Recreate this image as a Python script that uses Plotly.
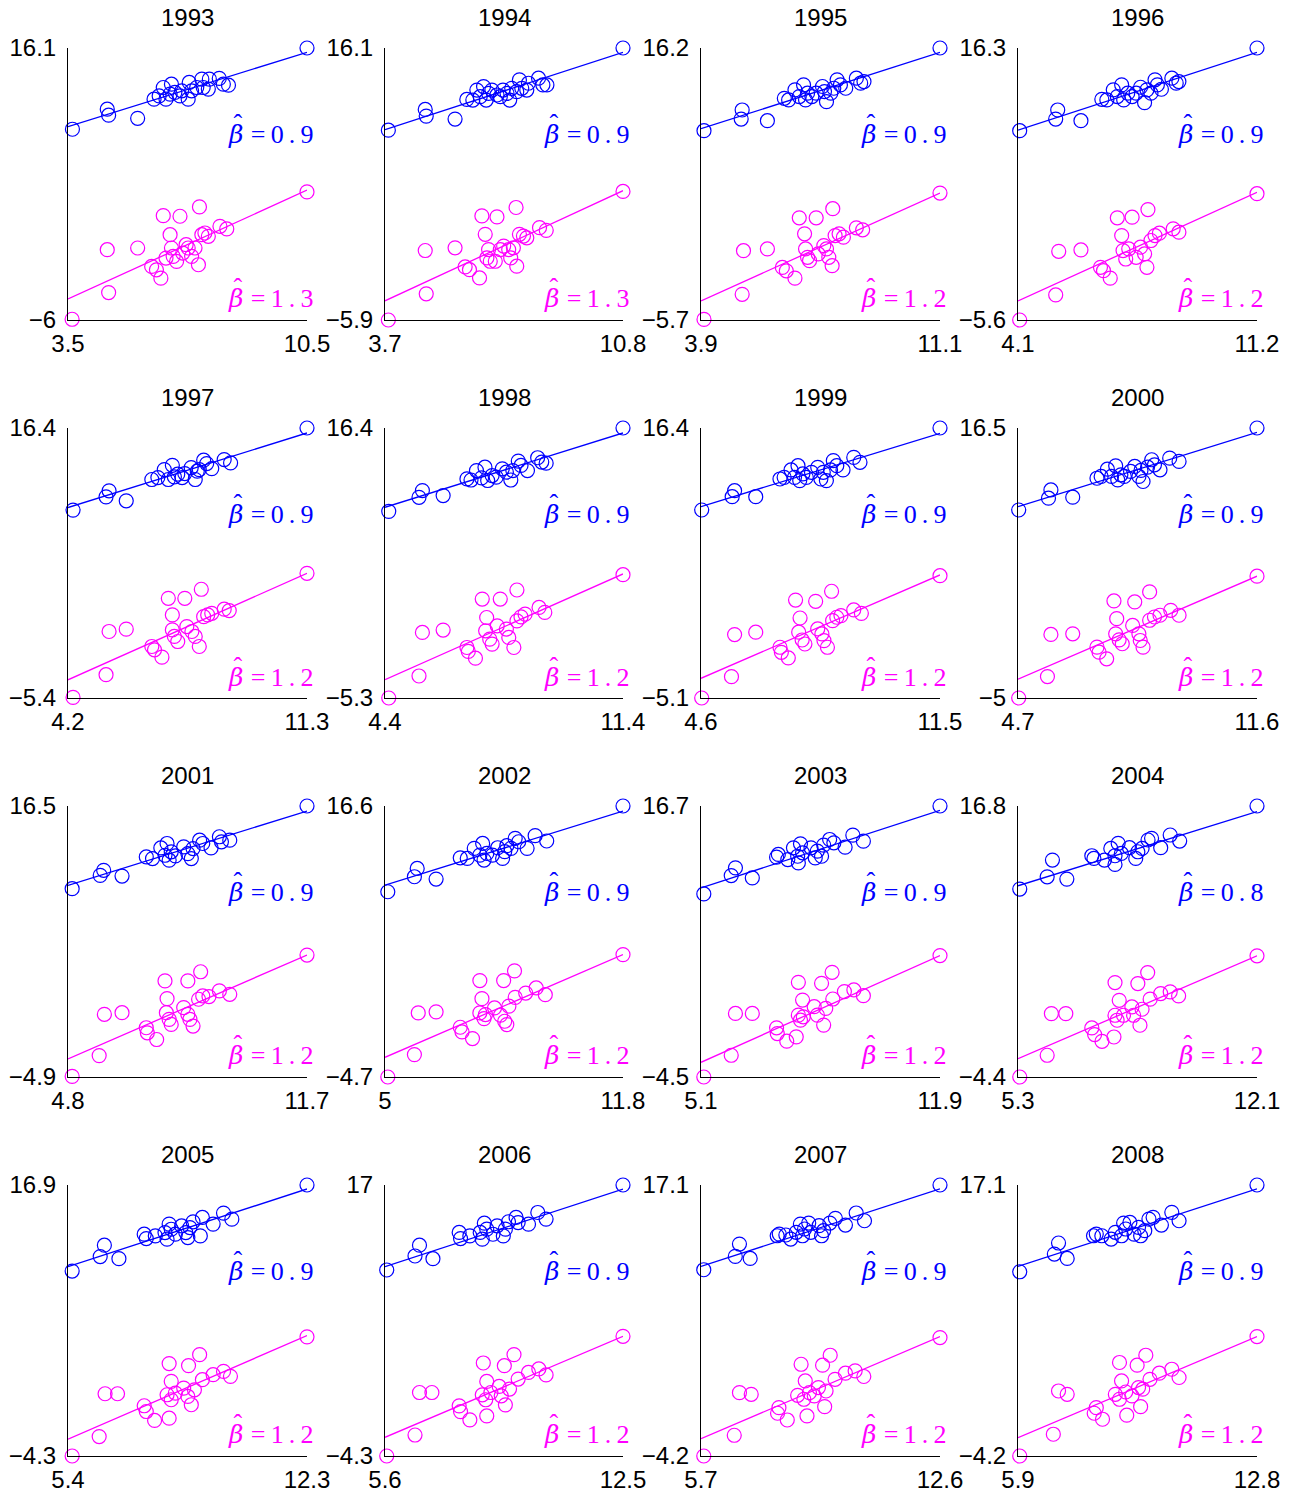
import plotly.graph_objects as go

years = list(range(1993, 2009))

x_lo = [3.5, 3.7, 3.9, 4.1, 4.2, 4.4, 4.6, 4.7, 4.8, 5.0, 5.1, 5.3, 5.4, 5.6, 5.7, 5.9]
x_hi = [10.5, 10.8, 11.1, 11.2, 11.3, 11.4, 11.5, 11.6, 11.7, 11.8, 11.9, 12.1, 12.3, 12.5, 12.6, 12.8]
y_lo = [-6, -5.9, -5.7, -5.6, -5.4, -5.3, -5.1, -5, -4.9, -4.7, -4.5, -4.4, -4.3, -4.3, -4.2, -4.2]
y_hi = [16.1, 16.1, 16.2, 16.3, 16.4, 16.4, 16.4, 16.5, 16.5, 16.6, 16.7, 16.8, 16.9, 17, 17.1, 17.1]

beta_blue = ["0.9"] * 11 + ["0.8"] + ["0.9"] * 4
beta_mag = ["1.3", "1.3"] + ["1.2"] * 14

# fitted line values at the left / right x limits
blue_line_start = [9.71, 9.50, 9.70, 9.69, 9.98, 10.03, 10.14, 10.24, 10.23, 10.38, 10.29, 10.56, 10.51, 10.58, 10.70, 10.70]
blue_line_end = [15.75, 15.75, 15.85, 15.95, 16.0, 16.0, 15.98, 16.15, 16.1, 16.2, 16.36, 16.36, 16.59, 16.68, 16.79, 16.79]
mag_line_start = [-4.29, -4.35, -4.16, -4.06, -3.93, -3.82, -3.53, -3.5, -3.47, -3.15, -3.35, -2.97, -2.99, -2.83, -2.84, -2.76]
mag_line_end = [4.55, 4.56, 4.52, 4.68, 4.67, 4.67, 4.70, 4.70, 4.73, 4.92, 5.0, 5.08, 5.12, 5.11, 5.19, 5.19]

blue_x = {
    1993: [3.63, 4.65, 4.69, 5.54, 6.02, 6.17, 6.29, 6.37, 6.49, 6.53, 6.63, 6.78, 6.83, 7.02, 7.05, 7.12, 7.27, 7.42, 7.46, 7.61, 7.64, 7.93, 8.05, 8.20, 10.5],
    1994: [3.80, 4.90, 4.93, 5.79, 6.14, 6.32, 6.44, 6.54, 6.64, 6.72, 6.79, 6.89, 7.04, 7.14, 7.22, 7.34, 7.42, 7.48, 7.63, 7.71, 7.78, 7.93, 7.98, 8.28, 8.41, 8.53, 10.8],
    1995: [3.99, 5.14, 5.11, 5.90, 6.41, 6.54, 6.73, 6.86, 6.99, 7.05, 7.11, 7.24, 7.37, 7.56, 7.62, 7.68, 7.81, 7.90, 8.00, 8.10, 8.26, 8.58, 8.71, 8.81, 11.1],
    1996: [4.15, 5.28, 5.22, 5.97, 6.59, 6.74, 6.93, 7.05, 7.18, 7.24, 7.36, 7.49, 7.61, 7.74, 7.86, 7.93, 8.05, 8.17, 8.24, 8.36, 8.67, 8.80, 8.88, 11.2],
    1997: [4.35, 5.42, 5.33, 5.93, 6.69, 6.87, 7.06, 7.18, 7.30, 7.36, 7.46, 7.59, 7.67, 7.86, 7.98, 8.04, 8.10, 8.23, 8.32, 8.47, 8.84, 9.03, 11.3],
    1998: [4.51, 5.50, 5.40, 6.11, 6.81, 6.93, 7.09, 7.24, 7.34, 7.42, 7.55, 7.67, 7.85, 7.97, 8.10, 8.16, 8.32, 8.40, 8.59, 8.89, 9.01, 9.14, 11.4],
    1999: [4.62, 5.57, 5.50, 6.18, 6.88, 7.00, 7.20, 7.30, 7.40, 7.45, 7.54, 7.64, 7.79, 7.97, 8.06, 8.13, 8.22, 8.34, 8.42, 8.52, 8.70, 9.01, 9.19, 11.5],
    2000: [4.72, 5.65, 5.58, 6.28, 6.98, 7.10, 7.28, 7.40, 7.52, 7.58, 7.67, 7.77, 7.95, 8.07, 8.19, 8.25, 8.31, 8.44, 8.56, 8.64, 8.80, 9.08, 9.35, 11.6],
    2001: [4.92, 5.83, 5.73, 6.36, 7.06, 7.24, 7.48, 7.60, 7.66, 7.72, 7.78, 7.90, 8.14, 8.26, 8.36, 8.41, 8.60, 8.69, 8.93, 9.17, 9.23, 9.47, 11.7],
    2002: [5.08, 5.92, 5.84, 6.46, 7.15, 7.35, 7.55, 7.71, 7.79, 7.83, 7.91, 8.07, 8.22, 8.36, 8.42, 8.48, 8.60, 8.72, 8.82, 9.06, 9.29, 9.62, 11.8],
    2003: [5.18, 6.08, 5.96, 6.56, 7.25, 7.30, 7.57, 7.73, 7.85, 7.93, 7.87, 7.99, 8.23, 8.35, 8.41, 8.53, 8.59, 8.76, 8.88, 9.20, 9.42, 9.72, 11.9],
    2004: [5.35, 6.28, 6.13, 6.69, 7.40, 7.46, 7.76, 7.94, 8.06, 8.15, 8.06, 8.24, 8.47, 8.65, 8.71, 8.83, 9.00, 9.10, 9.36, 9.63, 9.90, 12.1],
    2005: [5.52, 6.33, 6.45, 6.87, 7.60, 7.66, 7.92, 8.20, 8.32, 8.26, 8.38, 8.50, 8.68, 8.80, 8.86, 8.92, 9.01, 9.22, 9.28, 9.59, 9.89, 10.13, 12.3],
    2006: [5.65, 6.47, 6.60, 6.99, 7.75, 7.79, 8.06, 8.36, 8.48, 8.42, 8.55, 8.73, 8.85, 9.03, 9.09, 9.18, 9.40, 9.46, 9.76, 10.03, 10.27, 12.5],
    2007: [5.78, 6.69, 6.81, 7.12, 7.90, 7.96, 8.15, 8.29, 8.45, 8.57, 8.63, 8.69, 8.81, 8.87, 9.11, 9.18, 9.24, 9.42, 9.58, 9.87, 10.18, 10.42, 12.6],
    2008: [5.95, 6.95, 7.07, 7.32, 8.08, 8.16, 8.32, 8.59, 8.71, 8.95, 8.89, 9.01, 9.13, 9.25, 9.38, 9.44, 9.56, 9.68, 9.80, 10.04, 10.34, 10.55, 12.8],
}
blue_y = {
    1993: [9.50, 11.13, 10.64, 10.39, 11.94, 12.21, 12.89, 11.94, 12.35, 13.16, 12.49, 12.21, 12.62, 11.94, 13.30, 12.62, 12.89, 13.57, 12.89, 12.76, 13.57, 13.63, 13.16, 13.08, 16.1],
    1994: [9.45, 11.13, 10.59, 10.35, 11.94, 11.89, 12.70, 12.16, 12.98, 11.89, 12.43, 12.70, 12.30, 12.16, 12.70, 12.43, 11.89, 12.84, 12.57, 13.52, 12.84, 12.70, 13.25, 13.66, 13.11, 13.11, 16.1],
    1995: [9.54, 11.21, 10.48, 10.35, 12.15, 12.02, 12.83, 12.29, 13.23, 12.02, 12.56, 12.29, 12.56, 13.10, 12.69, 11.88, 12.56, 12.96, 13.64, 13.23, 12.96, 13.77, 13.37, 13.50, 16.2],
    1996: [9.64, 11.31, 10.58, 10.45, 12.17, 12.12, 12.93, 12.39, 13.33, 12.12, 12.66, 12.39, 12.66, 13.14, 11.90, 12.93, 12.66, 13.74, 13.33, 12.98, 13.87, 13.47, 13.60, 16.3],
    1997: [9.77, 11.33, 10.84, 10.52, 12.24, 12.40, 13.04, 12.24, 13.39, 12.45, 12.67, 12.40, 12.72, 13.20, 12.24, 12.91, 13.04, 13.80, 13.53, 13.12, 13.85, 13.58, 16.4],
    1998: [9.70, 11.37, 10.83, 10.97, 12.31, 12.22, 12.98, 12.39, 13.25, 12.18, 12.58, 12.45, 13.12, 12.85, 12.22, 12.98, 13.74, 13.39, 12.98, 14.01, 13.66, 13.57, 16.4],
    1999: [9.87, 11.41, 10.93, 10.93, 12.34, 12.47, 13.06, 12.47, 13.40, 12.21, 12.74, 12.47, 12.87, 13.27, 12.34, 12.87, 12.21, 13.06, 13.80, 13.40, 13.06, 14.06, 13.67, 16.4],
    2000: [9.97, 11.57, 10.91, 10.99, 12.50, 12.64, 13.22, 12.64, 13.49, 12.37, 12.77, 12.64, 13.04, 13.44, 12.64, 13.12, 12.24, 13.38, 13.97, 13.57, 13.17, 14.10, 13.84, 16.5],
    2001: [9.97, 11.42, 11.02, 10.97, 12.48, 12.35, 13.19, 12.61, 13.54, 12.22, 12.88, 12.56, 13.27, 12.74, 12.35, 13.14, 13.80, 13.54, 13.19, 14.07, 13.67, 13.80, 16.5],
    2002: [9.86, 11.69, 11.04, 10.86, 12.53, 12.48, 13.27, 12.74, 13.66, 12.35, 12.87, 12.74, 13.32, 12.48, 13.01, 13.48, 13.27, 14.06, 13.79, 13.27, 14.27, 13.85, 16.6],
    2003: [9.82, 11.86, 11.26, 11.07, 12.70, 12.91, 12.51, 13.43, 12.77, 13.74, 12.25, 13.04, 13.43, 12.64, 13.17, 12.77, 13.64, 14.08, 13.82, 13.48, 14.42, 13.95, 16.7],
    2004: [10.30, 12.57, 11.26, 11.08, 12.91, 12.70, 12.57, 13.48, 12.91, 13.88, 12.23, 13.09, 13.54, 12.70, 13.22, 13.48, 14.14, 14.27, 13.54, 14.53, 14.06, 16.8],
    2005: [10.17, 11.30, 12.19, 11.14, 13.05, 12.71, 12.92, 13.18, 13.84, 12.66, 13.44, 13.05, 13.70, 13.18, 12.79, 13.57, 14.02, 12.92, 14.36, 13.84, 14.70, 14.23, 16.9],
    2006: [10.32, 11.42, 12.27, 11.21, 13.27, 12.79, 13.00, 13.27, 14.00, 12.74, 13.53, 13.13, 13.79, 13.00, 13.53, 14.11, 14.45, 14.05, 13.92, 14.84, 14.32, 17.0],
    2007: [10.44, 11.49, 12.46, 11.33, 13.11, 13.24, 13.17, 12.85, 13.38, 14.03, 13.11, 13.64, 14.11, 13.38, 13.90, 13.11, 13.51, 14.11, 14.48, 13.95, 14.90, 14.29, 17.1],
    2008: [10.28, 11.67, 12.54, 11.33, 13.11, 13.24, 13.11, 12.85, 13.38, 14.11, 13.11, 13.64, 14.16, 13.24, 13.77, 13.11, 13.51, 14.42, 14.56, 13.95, 14.95, 14.29, 17.1],
}
mag_x = {
    1993: [3.62, 4.65, 4.69, 5.54, 5.95, 6.09, 6.22, 6.29, 6.37, 6.49, 6.53, 6.58, 6.68, 6.78, 6.86, 6.96, 7.02, 7.12, 7.22, 7.32, 7.35, 7.42, 7.51, 7.61, 7.95, 8.15, 10.5],
    1994: [3.80, 4.90, 4.93, 5.79, 6.09, 6.22, 6.52, 6.59, 6.69, 6.74, 6.79, 6.84, 6.99, 7.04, 7.14, 7.24, 7.39, 7.45, 7.53, 7.61, 7.63, 7.71, 7.83, 7.93, 8.31, 8.51, 10.8],
    1995: [3.99, 5.18, 5.14, 5.90, 6.35, 6.47, 6.73, 6.86, 7.02, 7.05, 7.11, 7.17, 7.37, 7.43, 7.60, 7.68, 7.75, 7.85, 7.87, 7.94, 8.06, 8.19, 8.58, 8.77, 11.1],
    1996: [4.15, 5.31, 5.22, 5.97, 6.55, 6.64, 6.84, 7.05, 7.18, 7.22, 7.30, 7.39, 7.49, 7.61, 7.74, 7.86, 7.93, 7.96, 8.05, 8.17, 8.30, 8.71, 8.88, 11.2],
    1997: [4.35, 5.42, 5.33, 5.93, 6.69, 6.77, 6.99, 7.18, 7.30, 7.30, 7.36, 7.46, 7.67, 7.73, 7.88, 7.98, 8.10, 8.16, 8.23, 8.35, 8.47, 8.84, 8.99, 11.3],
    1998: [4.51, 5.50, 5.40, 6.11, 6.81, 6.85, 7.06, 7.26, 7.39, 7.36, 7.48, 7.55, 7.79, 7.70, 7.97, 8.04, 8.19, 8.28, 8.28, 8.40, 8.52, 8.93, 9.10, 11.4],
    1999: [4.62, 5.57, 5.48, 6.18, 6.88, 6.92, 7.12, 7.33, 7.46, 7.42, 7.52, 7.60, 7.91, 7.97, 8.09, 8.15, 8.25, 8.37, 8.40, 8.52, 8.64, 9.01, 9.23, 11.5],
    2000: [4.72, 5.65, 5.55, 6.28, 6.98, 7.04, 7.26, 7.47, 7.55, 7.52, 7.62, 7.71, 8.07, 8.01, 8.19, 8.23, 8.31, 8.50, 8.50, 8.64, 8.80, 9.11, 9.35, 11.6],
    2001: [4.92, 5.85, 5.70, 6.36, 7.06, 7.09, 7.36, 7.60, 7.66, 7.64, 7.72, 7.78, 8.26, 8.14, 8.26, 8.32, 8.41, 8.63, 8.57, 8.69, 8.87, 9.17, 9.47, 11.7],
    2002: [5.08, 5.95, 5.84, 6.46, 7.15, 7.20, 7.50, 7.71, 7.77, 7.71, 7.83, 7.87, 8.13, 8.39, 8.30, 8.42, 8.48, 8.70, 8.54, 8.72, 9.02, 9.32, 9.58, 11.8],
    2003: [5.18, 6.08, 6.56, 5.96, 7.25, 7.27, 7.54, 7.81, 7.87, 7.99, 7.87, 7.93, 8.01, 8.32, 8.53, 8.41, 8.59, 8.83, 8.65, 8.85, 9.18, 9.45, 9.72, 11.9],
    2004: [5.35, 6.25, 6.66, 6.13, 7.40, 7.48, 7.69, 8.03, 8.06, 8.18, 8.06, 8.12, 8.30, 8.54, 8.71, 8.59, 8.77, 8.99, 8.83, 9.06, 9.36, 9.63, 9.87, 12.1],
    2005: [5.52, 6.47, 6.83, 6.30, 7.60, 7.66, 7.90, 8.32, 8.32, 8.38, 8.26, 8.38, 8.50, 8.74, 8.88, 8.86, 8.96, 9.20, 9.05, 9.28, 9.59, 9.89, 10.09, 12.3],
    2006: [5.65, 6.60, 6.96, 6.47, 7.75, 7.79, 8.06, 8.55, 8.45, 8.55, 8.42, 8.52, 8.67, 8.91, 9.06, 8.97, 9.09, 9.34, 9.21, 9.46, 9.76, 10.06, 10.27, 12.5],
    2007: [5.78, 6.81, 7.15, 6.66, 7.95, 7.91, 8.19, 8.76, 8.59, 8.71, 8.49, 8.67, 8.83, 9.09, 9.21, 8.97, 9.27, 9.43, 9.31, 9.57, 9.87, 10.15, 10.40, 12.6],
    2008: [5.95, 7.07, 7.32, 6.92, 8.16, 8.10, 8.34, 9.04, 8.83, 8.89, 8.71, 8.83, 9.01, 9.38, 9.34, 9.19, 9.44, 9.59, 9.50, 9.71, 9.98, 10.34, 10.55, 12.8],
}
mag_y = {
    1993: [-5.94, -0.29, -3.77, -0.15, -1.65, -1.92, -2.60, 2.48, -0.97, 0.93, -0.15, -0.83, -1.24, 2.43, -0.56, 0.12, -0.15, -0.83, -0.15, -1.51, 3.19, 0.93, 1.07, 0.80, 1.61, 1.40, 4.41],
    1994: [-5.9, -0.28, -3.78, -0.06, -1.61, -1.83, -2.50, 2.52, 1.03, -0.88, -0.20, -1.15, -1.15, 2.44, -0.20, 0.08, -0.20, -0.88, -0.06, 3.20, -1.55, 1.03, 0.89, 0.75, 1.57, 1.35, 4.50],
    1995: [-5.65, -0.12, -3.63, 0.02, -1.47, -1.74, -2.33, 2.53, 1.24, 0.02, -0.65, -0.92, 2.53, -0.38, 0.29, 0.02, -0.65, -1.33, 3.26, 1.10, 1.24, 0.97, 1.72, 1.56, 4.52],
    1996: [-5.6, -0.07, -3.58, 0.04, -1.36, -1.63, -2.23, 2.63, 1.20, -0.01, -0.69, 0.12, 2.68, -0.55, 0.26, -0.28, -1.36, 3.29, 0.80, 1.20, 1.39, 1.74, 1.47, 4.57],
    1997: [-5.35, -0.03, -3.52, 0.16, -1.24, -1.51, -2.10, 2.65, 1.31, 0.10, -0.43, -0.84, 2.65, 0.37, -0.03, -0.43, -1.24, 3.38, 1.17, 1.31, 1.44, 1.77, 1.66, 4.67],
    1998: [-5.3, -0.03, -3.53, 0.16, -1.24, -1.56, -2.10, 2.65, 1.17, 0.10, -0.57, -0.97, 2.65, 0.50, 0.24, -0.43, -1.24, 3.38, 0.90, 1.22, 1.44, 1.98, 1.58, 4.61],
    1999: [-5.1, -0.05, -3.40, 0.14, -1.06, -1.46, -1.91, 2.70, 1.27, 0.14, -0.48, -0.80, 2.60, 0.40, 0.00, -0.53, -1.06, 3.40, 1.06, 1.33, 1.46, 1.91, 1.64, 4.64],
    2000: [-5.0, 0.06, -3.29, 0.11, -0.95, -1.35, -1.88, 2.73, 1.32, 0.11, -0.37, -0.68, 2.65, 0.78, 0.11, -0.42, -0.95, 3.45, 1.19, 1.45, 1.59, 1.98, 1.59, 4.70],
    2001: [-4.85, 0.05, -3.21, 0.18, -1.01, -1.41, -1.94, 2.69, 1.29, 0.18, -0.35, -0.75, 2.69, 0.58, 0.05, -0.35, -0.88, 3.41, 1.24, 1.50, 1.45, 1.90, 1.63, 4.73],
    2002: [-4.7, 0.34, -2.94, 0.42, -0.79, -1.16, -1.68, 2.88, 1.46, 0.34, -0.11, 0.21, 0.73, 2.88, 0.16, -0.32, -0.58, 3.64, 0.87, 1.56, 1.90, 2.30, 1.77, 4.92],
    2003: [-4.5, 0.47, 0.47, -2.80, -0.65, -1.10, -1.70, -1.36, 2.91, 1.52, 0.34, -0.05, 0.21, 1.00, 2.83, 0.34, -0.44, 3.69, 0.87, 1.60, 2.18, 2.31, 1.86, 5.00],
    2004: [-4.4, 0.56, 0.56, -2.70, -0.56, -1.08, -1.61, -1.27, 2.99, 1.60, 0.43, 0.04, 0.43, 1.08, 2.91, 0.43, -0.35, 3.77, 0.90, 1.69, 2.13, 2.26, 1.94, 5.08],
    2005: [-4.3, 0.57, 0.57, -2.78, -0.37, -0.82, -1.52, -1.34, 2.93, 1.54, 0.49, 0.10, 0.62, 1.01, 2.77, 0.36, -0.29, 3.63, 0.88, 1.67, 2.06, 2.32, 1.93, 5.02],
    2006: [-4.3, 0.69, 0.69, -2.65, -0.36, -0.81, -1.46, -1.15, 3.01, 1.56, 0.51, 0.12, 0.69, 1.17, 2.80, 0.43, -0.28, 3.67, 0.96, 1.75, 2.27, 2.54, 2.07, 5.11],
    2007: [-4.2, 0.78, 0.65, -2.57, -0.40, -0.84, -1.37, -1.05, 3.01, 1.70, 0.57, 0.26, 0.78, 1.18, 2.94, 0.52, -0.32, 3.72, 0.91, 1.83, 2.31, 2.49, 2.05, 5.11],
    2008: [-4.2, 0.91, 0.65, -2.49, -0.40, -0.84, -1.31, -0.99, 3.15, 1.70, 0.65, 0.26, 0.83, 1.18, 2.94, 0.52, -0.32, 3.72, 1.05, 1.83, 2.31, 2.62, 1.97, 5.19],
}

for yr in years:
    assert len(blue_x[yr]) == len(blue_y[yr]), ("blue", yr, len(blue_x[yr]), len(blue_y[yr]))
    assert len(mag_x[yr]) == len(mag_y[yr]), ("mag", yr, len(mag_x[yr]), len(mag_y[yr]))

BLUE = "#0000FF"
MAGENTA = "#FF00FF"

W, H = 1293, 1495

# panel frames in window pixels
col_left = [68, 385, 701, 1018]
col_right = [307, 623, 940, 1257]
row_top = [48, 428, 806, 1185]
row_bottom = [320, 698, 1077, 1456]


def fmt(v):
    if abs(v - round(v)) < 1e-9:
        s = str(int(round(v)))
    else:
        s = f"{v:.1f}"
    return s.replace("-", "\u2212")


def beta_label(b):
    a, c = b.split(".")
    beta = ('<span style="font-family:DejaVu Serif;font-size:25px;letter-spacing:-10px">'
            '<i>\u03b2</i></span>')
    hat = '<span style="font-size:26px;baseline-shift:11px">\u02c6</span>'
    val = "\u2004=\u2009" + a + "\u2009.\u2009" + c
    return beta + hat + val


SANS = "Liberation Sans, Arial, sans-serif"
SERIF = "Liberation Serif, Times New Roman, serif"

fig = go.Figure()
layout = dict(
    width=W, height=H,
    margin=dict(l=0, r=0, t=0, b=0, autoexpand=False),
    paper_bgcolor="white", plot_bgcolor="white",
    showlegend=False,
    font=dict(family=SANS, size=24, color="black"),
)
annotations = []

for i, yr in enumerate(years):
    r, c = divmod(i, 4)
    n = i + 1
    xa = "x" if n == 1 else f"x{n}"
    ya = "y" if n == 1 else f"y{n}"
    xkey = "xaxis" if n == 1 else f"xaxis{n}"
    ykey = "yaxis" if n == 1 else f"yaxis{n}"

    fig.add_trace(go.Scatter(
        x=[x_lo[i], x_hi[i]], y=[blue_line_start[i], blue_line_end[i]],
        mode="lines", line=dict(color=BLUE, width=1.3), xaxis=xa, yaxis=ya,
        hoverinfo="skip"))
    fig.add_trace(go.Scatter(
        x=[x_lo[i], x_hi[i]], y=[mag_line_start[i], mag_line_end[i]],
        mode="lines", line=dict(color=MAGENTA, width=1.3), xaxis=xa, yaxis=ya,
        hoverinfo="skip"))
    fig.add_trace(go.Scatter(
        x=blue_x[yr], y=blue_y[yr], mode="markers", cliponaxis=False,
        marker=dict(symbol="circle-open", size=14, color=BLUE, line=dict(width=1.2)),
        xaxis=xa, yaxis=ya))
    fig.add_trace(go.Scatter(
        x=mag_x[yr], y=mag_y[yr], mode="markers", cliponaxis=False,
        marker=dict(symbol="circle-open", size=14, color=MAGENTA, line=dict(width=1.2)),
        xaxis=xa, yaxis=ya))

    common = dict(
        showline=True, linecolor="black", linewidth=1, mirror=False,
        showgrid=False, zeroline=False, ticks="inside", ticklen=3,
        tickcolor="black", tickwidth=1, autorange=False, automargin=False,
        tickfont=dict(family=SANS, size=24, color="black"),
    )
    layout[xkey] = dict(
        common,
        domain=[col_left[c] / W, col_right[c] / W],
        range=[x_lo[i], x_hi[i]],
        tickvals=[x_lo[i], x_hi[i]],
        ticktext=[fmt(x_lo[i]), fmt(x_hi[i])],
        anchor=ya, ticklabelstandoff=2,
    )
    layout[ykey] = dict(
        common,
        domain=[1 - row_bottom[r] / H, 1 - row_top[r] / H],
        range=[y_lo[i], y_hi[i]],
        tickvals=[y_lo[i], y_hi[i]],
        ticktext=[fmt(y_lo[i]), fmt(y_hi[i])],
        anchor=xa, ticklabelstandoff=6,
    )

    dx = f"{xa} domain"
    dy = f"{ya} domain"
    annotations.append(dict(
        text=str(yr), xref=dx, yref=dy, x=0.5, y=1, xanchor="center",
        yanchor="middle", yshift=31, showarrow=False,
        font=dict(family=SANS, size=24, color="black")))
    for yfrac, b, col in ((0.69, beta_blue[i], BLUE), (0.087, beta_mag[i], MAGENTA)):
        annotations.append(dict(
            text=beta_label(b), xref=dx, yref=dy, x=1, y=yfrac,
            xanchor="right", yanchor="middle", xshift=9, yshift=3,
            showarrow=False, font=dict(family=SERIF, size=26, color=col)))

layout["annotations"] = annotations
fig.update_layout(**layout)
# the page's default body margin would shift the figure by 8px; remove it
fig.write_html("out.html", config={"displayModeBar": False},
               post_script="document.body.style.margin='0px';")
